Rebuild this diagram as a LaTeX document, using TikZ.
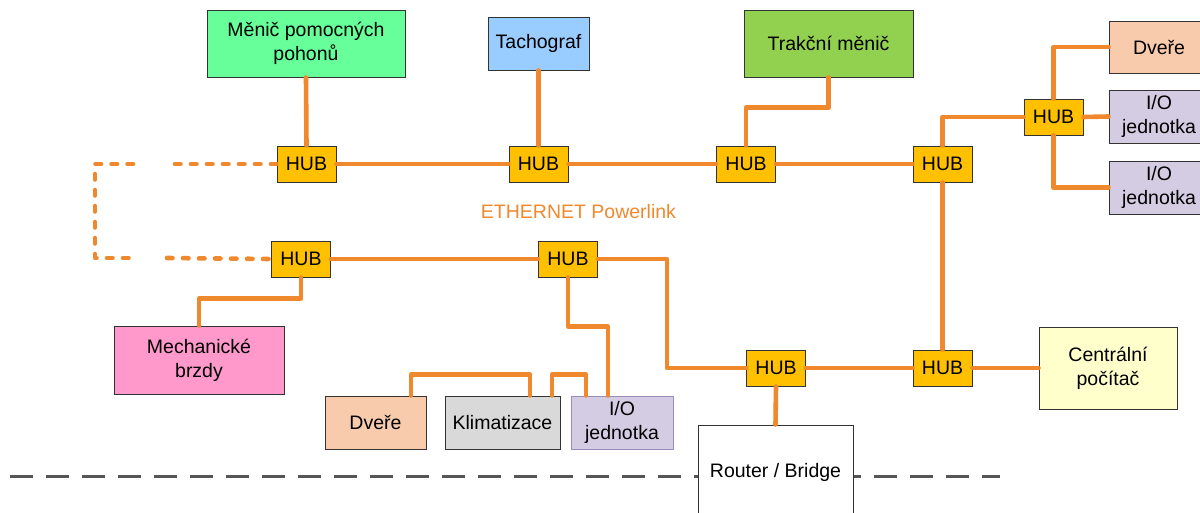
\documentclass[tikz,border=0pt]{standalone}
\usepackage{fontspec}
\setmainfont{Liberation Sans}
\usetikzlibrary{calc}
\definecolor{lan}{HTML}{F0892D}
\definecolor{hubfill}{HTML}{FFC000}
\definecolor{aux}{HTML}{66FF99}
\definecolor{tacho}{HTML}{99CCFF}
\definecolor{trac}{HTML}{92D050}
\definecolor{door}{HTML}{F8CBAD}
\definecolor{iofill}{HTML}{D3CCE2}
\definecolor{iodraw}{HTML}{9C8CBE}
\definecolor{brake}{HTML}{FF99CC}
\definecolor{clima}{HTML}{D9D9D9}
\definecolor{cpu}{HTML}{FFFFCC}
\definecolor{sep}{HTML}{555555}
\begin{document}
\begin{tikzpicture}[x=1pt,y=-1pt,
  unit/.style={draw=black!80, line width=1pt, inner sep=0pt, align=center,
    font=\fontsize{19.5}{24}\selectfont},
  hub/.style={unit, fill=hubfill, minimum width=59pt, minimum height=36pt},
  link/.style={draw=lan, line width=4.6pt, line cap=round, line join=round},
  dotlink/.style={link, dash pattern=on 5.5pt off 10.5pt},
  border/.style={draw=sep, line width=3pt, dash pattern=on 23pt off 13pt}]
\useasboundingbox (0,0) rectangle (1200,512);

% vehicle boundary
\coordinate (bL) at (10,476);
\coordinate (bR) at (1000,476);
\draw[border] (bL) -- (bR);

% end devices
\node[unit, fill=aux, minimum width=198pt, minimum height=67pt] (mpp) at (306,43.5) {Měnič pomocných\\pohonů};
\node[unit, fill=tacho, minimum width=101pt, minimum height=53pt] (tach) at (538.5,43.5) {Tachograf};
\node[unit, fill=trac, minimum width=169pt, minimum height=67pt] (trak) at (828.5,43.5) {Trakční měnič};
\node[unit, fill=door, minimum width=100pt, minimum height=52pt] (dvR) at (1159,47) {Dveře};
\node[unit, fill=iofill, minimum width=100pt, minimum height=53pt] (ioA) at (1159,116.5) {I/O\\jednotka};
\node[unit, fill=iofill, minimum width=100pt, minimum height=53pt] (ioC) at (1159,187.5) {I/O\\jednotka};
\node[unit, fill=brake, minimum width=170pt, minimum height=68pt] (brz) at (199,360) {Mechanické\\brzdy};
\node[unit, fill=door, minimum width=101pt, minimum height=53pt] (dvB) at (375.5,422.5) {Dveře};
\node[unit, fill=clima, minimum width=115pt, minimum height=53pt] (klim) at (502.5,422.5) {Klimatizace};
\node[unit, draw=iodraw, fill=iofill, minimum width=102pt, minimum height=53pt] (ioB) at (622,422.5) {I/O\\jednotka};
\node[unit, fill=white, minimum width=155pt, minimum height=94pt] (rtr) at (775.5,472) {Router / Bridge};
\node[unit, fill=cpu, minimum width=138pt, minimum height=82pt] (cpu) at (1108,368) {Centrální\\počítač};

% hubs
\node[hub] (hA) at (306.5,164) {HUB};
\node[hub] (hB) at (538.5,164) {HUB};
\node[hub] (hC) at (746,164) {HUB};
\node[hub] (hD) at (942.5,164) {HUB};
\node[hub] (hR) at (1053.5,117) {HUB};
\node[hub] (hE) at (301,259) {HUB};
\node[hub] (hF) at (568,259) {HUB};
\node[hub] (hG) at (776,368) {HUB};
\node[hub] (hH) at (942.5,368) {HUB};

\node[text=lan, font=\fontsize{19.5}{24}\selectfont, anchor=base] (eth) at (578.5,218) {ETHERNET Powerlink};

% upper ring
\draw[link] (hA.east) -- (hB.west);
\draw[link] (hB.east) -- (hC.west);
\draw[link] (hC.east) -- (hD.west);
\draw[link] (mpp.south) -- (hA.north);
\draw[link] (tach.south) -- (hB.north);
\draw[link] (hC.north) -- ++(0,-38) -| (trak.south);
\draw[link] (hD.north) |- (hR.west);
\draw[link] (hR.north) |- (dvR.west);
\draw[link] (hR.east) -- (ioA.west);
\draw[link] (hR.south) |- (ioC.west);
\draw[link] (hD.south) -- (hH.north);

% lower ring
\coordinate (kF) at (667,368);
\draw[link] (hE.east) -- (hF.west);
\draw[link] (hF.east) -| (kF) -- (hG.west);
\draw[link] (hG.east) -- (hH.west);
\draw[link] (hH.east) -- (cpu.west);
\draw[link] (hG.south) -- (rtr.north);
\draw[link] (hE.south) -- ++(0,21) -| (brz.north);
\draw[link] (hF.south) -- ++(0,49) -| ($(ioB.north)+(-14,0)$);
\draw[link] ($(dvB.north)+(35.5,0)$) -- ++(0,-21) -| ($(klim.north)+(27.5,0)$);
\draw[link] ($(klim.north)+(49.5,0)$) -- ++(0,-21) -| ($(ioB.north)+(-36,0)$);

% coupling between the two rings
\coordinate (dA1) at (173,164);
\coordinate (dA2) at (133,164);
\coordinate (dC1) at (95,164);
\coordinate (dC2) at (95,258);
\coordinate (dE2) at (133,258);
\coordinate (dE1) at (167,258);
\draw[dotlink] (hA.west) -- (dA1);
\draw[dotlink] (dA2) -- (dC1) -- (dC2) -- (dE2);
\draw[dotlink] (dE1) -- (hE.west);
\end{tikzpicture}
\end{document}
